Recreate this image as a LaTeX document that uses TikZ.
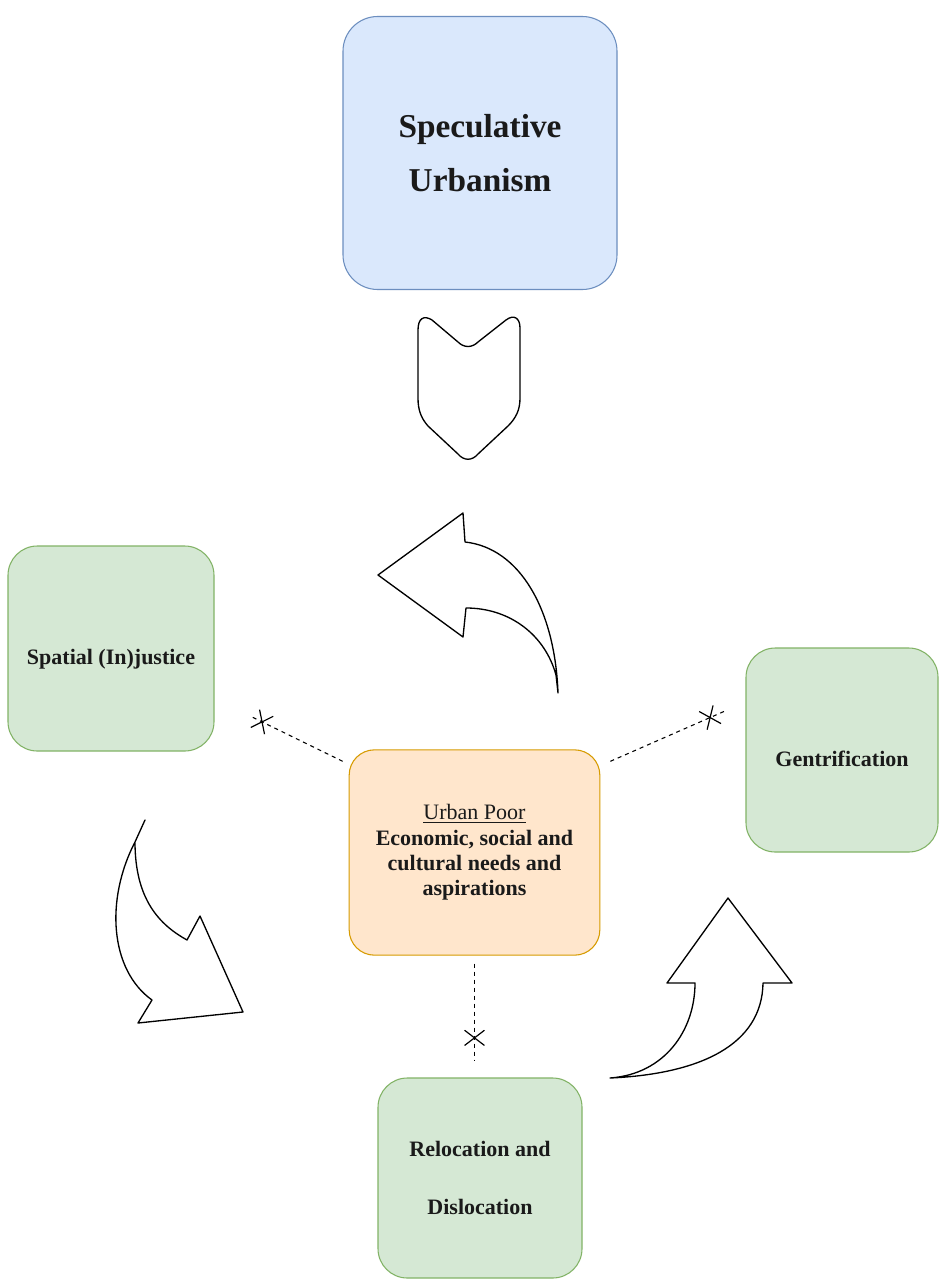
\documentclass[tikz,border=0pt]{standalone}
\usepackage{fontspec}
\setmainfont{Liberation Serif}
\usetikzlibrary{shapes.misc}
\definecolor{bluefill}{HTML}{DAE8FC}
\definecolor{blueline}{HTML}{6C8EBF}
\definecolor{greenfill}{HTML}{D5E8D4}
\definecolor{greenline}{HTML}{82B366}
\definecolor{orangefill}{HTML}{FFE6CC}
\definecolor{orangeline}{HTML}{D79B00}
\definecolor{txt}{HTML}{1A1A1A}
\tikzset{
  boxbase/.style={rectangle, line width=0.8pt, align=center, text=txt, inner sep=2pt},
  bluebox/.style={boxbase, draw=blueline, fill=bluefill, rounded corners=26pt,
    minimum width=205.5pt, minimum height=204.75pt},
  greenbox/.style={boxbase, draw=greenline, fill=greenfill, rounded corners=22pt},
  upbox/.style={boxbase, draw=orangeline, fill=orangefill, rounded corners=19pt,
    minimum width=188pt, minimum height=154pt},
  blockarrow/.style={draw=black, fill=white, line width=1pt, line join=round},
  dashlink/.style={draw=black, line width=0.8pt, dash pattern=on 3pt off 3pt},
  xmark/.style={draw=black, cross out, sloped, solid, line width=0.9pt, inner sep=0pt,
    minimum width=10.5pt, minimum height=14pt}
}
\begin{document}
\begin{tikzpicture}[x=0.75pt,y=-0.75pt]
\useasboundingbox[fill=white] (0,0) rectangle (940,1280);

% boxes
\node[bluebox, font=\fontsize{25}{41}\selectfont\bfseries] (su) at (480,153)
  {Speculative\\Urbanism};
\node[greenbox, minimum width=154.5pt, minimum height=153.75pt,
  font=\fontsize{16.5}{19}\selectfont\bfseries] (sj) at (111,648.5)
  {\raisebox{-12pt}[0pt][0pt]{Spatial (In)justice}};
\node[greenbox, minimum width=144pt, minimum height=153pt,
  font=\fontsize{16.5}{19}\selectfont\bfseries] (ge) at (842,750)
  {\raisebox{-12.5pt}[0pt][0pt]{Gentrification}};
\node[greenbox, minimum width=153pt, minimum height=150pt,
  font=\fontsize{16.5}{44}\selectfont\bfseries] (rd) at (480,1178) {Relocation and\\Dislocation};
\node[upbox, font=\fontsize{16.5}{19}\selectfont] (up) at (474.5,852.5)
  {\underline{Urban Poor}\\\textbf{Economic, social and}\\\textbf{cultural needs and}\\\textbf{aspirations}};

% chevron shape below the top box
\draw[blockarrow] (418,330) .. controls (418,318) and (424,315) .. (432,320)
  -- (458,342) .. controls (464,348) and (472,348) .. (478,342)
  -- (506,320) .. controls (514,314) and (520,318) .. (520,328)
  -- (520,398) .. controls (520,410) and (516,418) .. (508,426)
  -- (478,454) .. controls (472,461) and (464,461) .. (458,454)
  -- (428,426) .. controls (421,418) and (418,410) .. (418,398) -- cycle;

% upper curved arrow (pointing left)
\draw[blockarrow] (558,693) .. controls (555,610) and (520,548) .. (465,542)
  -- (463,513) -- (378,575) -- (463,637) -- (466,608)
  .. controls (510,608) and (545,635) .. (556,675) -- cycle;

% lower-left curved arrow (pointing down-right)
\draw[blockarrow] (145,820) -- (135,842)
  .. controls (105,900) and (110,970) .. (152,1000)
  -- (138,1023) -- (243,1012) -- (200,916) -- (187,940)
  .. controls (160,925) and (135,900) .. (135,842) -- cycle;

% lower-right curved arrow (pointing up)
\draw[blockarrow] (610,1078) .. controls (665,1074) and (695,1030) .. (695,983)
  -- (667,983) -- (728,898) -- (792,983) -- (763,983)
  .. controls (762,1045) and (700,1074) .. (610,1078) -- cycle;

% dashed links with cross marks
\coordinate (sjend) at (250,716);
\coordinate (geend) at (725,711);
\coordinate (rdend) at (474.5,1060);
\draw[dashlink] ([shift={(-6,12)}]up.north west) -- node[xmark, pos=0.87] {} (sjend);
\draw[dashlink] ([shift={(10,12)}]up.north east) -- node[xmark, pos=0.87] {} (geend);
\draw[dashlink] ([shift={(0,8)}]up.south) -- node[xmark, pos=0.77] {} (rdend);
\end{tikzpicture}
\end{document}
